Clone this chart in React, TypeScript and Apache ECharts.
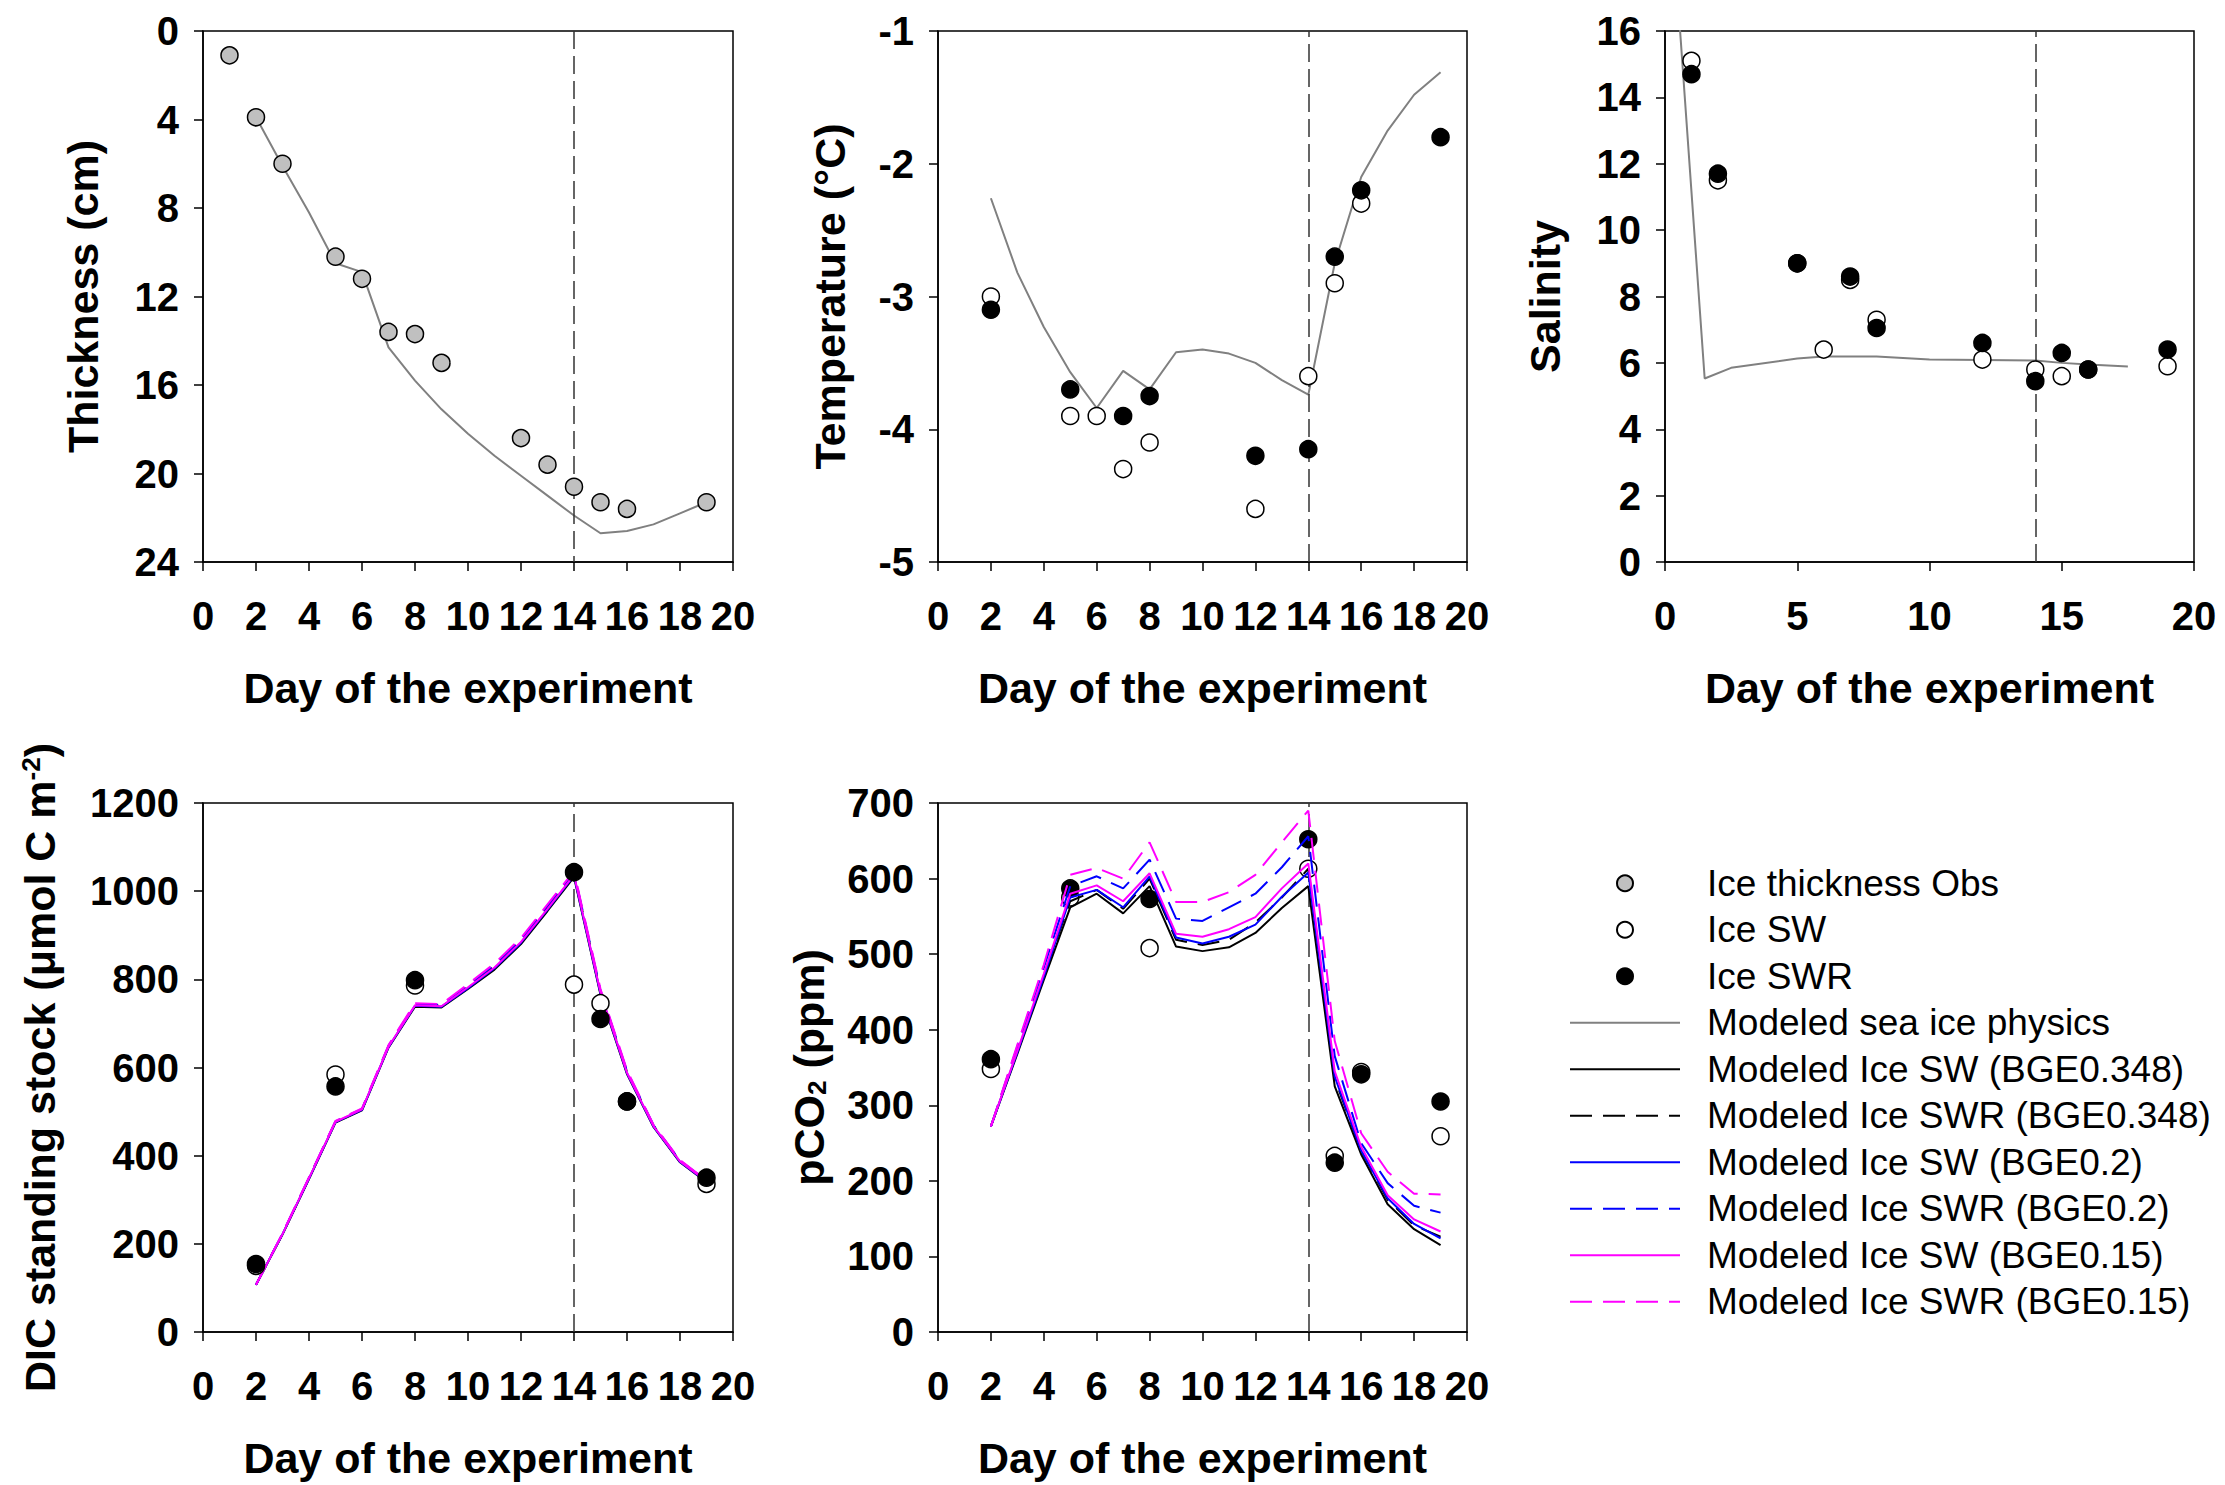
import React, { useEffect, useRef } from "react";
import * as echarts from "echarts";

// ---------- DATA ----------
const eventDay = 14;

// Panel 1: ice thickness (cm)
const thickObsDays = [1, 2, 3, 5, 6, 7, 8, 9, 12, 13, 14, 15, 16, 19];
const thickObs = [1.1, 3.9, 6.0, 10.2, 11.2, 13.6, 13.7, 15.0, 18.4, 19.6, 20.6, 21.3, 21.6, 21.3];
const thickModelDays = [2, 3, 4, 5, 6, 7, 8, 9, 10, 11, 12, 13, 14, 15, 16, 17, 18, 19];
const thickModel = [3.9, 6.1, 8.2, 10.5, 10.9, 14.3, 15.8, 17.1, 18.2, 19.2, 20.1, 21.0, 21.9, 22.7, 22.6, 22.3, 21.8, 21.3];

// Panel 2: temperature (°C)
const tempSWDays = [2, 5, 6, 7, 8, 12, 14, 15, 16];
const tempSW = [-3.0, -3.9, -3.9, -4.3, -4.1, -4.6, -3.6, -2.9, -2.3];
const tempSWRDays = [2, 5, 7, 8, 12, 14, 15, 16, 19];
const tempSWR = [-3.1, -3.7, -3.9, -3.75, -4.2, -4.15, -2.7, -2.2, -1.8];
const tempModelDays = [2, 3, 4, 5, 6, 7, 8, 9, 10, 11, 12, 13, 14, 15, 16, 17, 18, 19];
const tempModel = [-2.26, -2.82, -3.23, -3.57, -3.84, -3.56, -3.7, -3.42, -3.4, -3.43, -3.5, -3.63, -3.74, -2.75, -2.1, -1.75, -1.48, -1.31];

// Panel 3: salinity
const salSWDays = [1, 2, 5, 6, 7, 8, 12, 14, 15, 16, 19];
const salSW = [15.1, 11.5, 9.0, 6.4, 8.5, 7.3, 6.1, 5.8, 5.6, 5.8, 5.9];
const salSWRDays = [1, 2, 5, 7, 8, 12, 14, 15, 16, 19];
const salSWR = [14.7, 11.7, 9.0, 8.6, 7.05, 6.6, 5.45, 6.3, 5.8, 6.4];
const salModelDays = [0.5, 1.5, 2.5, 5, 6, 8, 10, 12, 14, 15, 16, 17.5];
const salModel = [16.8, 5.53, 5.85, 6.13, 6.19, 6.19, 6.1, 6.09, 6.07, 6.0, 5.95, 5.89];

// Panel 4: DIC standing stock
const dicObsDays = [2, 5, 8, 14, 15, 16, 19];
const dicSW = [150, 584, 786, 788, 746, 523, 336];
const dicSWR = [154, 557, 798, 1043, 710, 523, 350];
const modelDays = [2, 3, 4, 5, 6, 7, 8, 9, 10, 11, 12, 13, 14, 15, 16, 17, 18, 19];
const dicSW348 = [107, 221, 347, 475, 503, 645, 738, 736, 778, 822, 880, 955, 1032, 765, 585, 465, 385, 340];
const dicSWR348 = [107, 222, 349, 477, 505, 648, 742, 740, 784, 830, 888, 964, 1040, 772, 590, 468, 388, 342];
const dicSW02 = [107, 222, 348, 476, 504, 646, 740, 738, 780, 825, 883, 958, 1035, 768, 587, 466, 386, 341];
const dicSWR02 = [107, 223, 350, 478, 506, 649, 744, 742, 786, 833, 891, 967, 1043, 775, 592, 469, 389, 343];
const dicSW015 = [107, 222, 349, 477, 505, 647, 741, 739, 782, 827, 885, 960, 1037, 770, 588, 467, 387, 342];
const dicSWR015 = [107, 224, 351, 479, 507, 651, 746, 744, 789, 836, 894, 970, 1046, 778, 594, 470, 390, 344];

// Panel 5: pCO2 (ppm)
const pco2SW = [348, 575, 508, 613, 233, 344, 259];
const pco2SWR = [361, 587, 573, 652, 224, 341, 305];
const pco2SW348 = [272, 368, 466, 562, 580, 554, 590, 510, 504, 509, 528, 561, 590, 325, 235, 169, 136, 115];
const pco2SWR348 = [272, 372, 472, 570, 585, 560, 600, 519, 512, 519, 542, 575, 613, 335, 240, 175, 141, 126];
const pco2SW02 = [272, 370, 470, 575, 585, 562, 603, 522, 514, 523, 539, 576, 608, 338, 240, 177, 143, 124];
const pco2SWR02 = [272, 378, 482, 590, 603, 587, 625, 547, 544, 562, 580, 615, 656, 365, 250, 197, 167, 158];
const pco2SW015 = [272, 372, 474, 580, 591, 570, 607, 527, 523, 533, 549, 587, 620, 345, 245, 181, 149, 133];
const pco2SWR015 = [272, 380, 486, 605, 614, 600, 648, 569, 569, 582, 605, 648, 690, 385, 263, 212, 183, 182];

const markerNames = ["Ice thickness Obs", "Ice SW", "Ice SWR"];
const lineNames = [
  "Modeled sea ice physics",
  "Modeled Ice SW (BGE0.348)",
  "Modeled Ice SWR (BGE0.348)",
  "Modeled Ice SW (BGE0.2)",
  "Modeled Ice SWR (BGE0.2)",
  "Modeled Ice SW (BGE0.15)",
  "Modeled Ice SWR (BGE0.15)",
];

// ---------- STYLE ----------
const FONT = "Liberation Sans, Arial, Helvetica, sans-serif";
const TICK_FS = 40;
const NAME_FS = 43;
const DASH = [22, 11];

const zip = (xs: number[], ys: number[]) => xs.map((x, i) => [x, ys[i]]);

const grids = [
  { left: 203, top: 31, width: 530, height: 531 },
  { left: 938, top: 31, width: 529, height: 531 },
  { left: 1665, top: 31, width: 529, height: 531 },
  { left: 203, top: 803, width: 530, height: 529 },
  { left: 938, top: 803, width: 529, height: 529 },
];

const axisCommon = {
  axisLine: { show: true, onZero: false, lineStyle: { color: "#000", width: 1.5 } },
  axisTick: { show: true, inside: false, length: 9, lineStyle: { color: "#000", width: 1.5 } },
  splitLine: { show: false },
  axisLabel: {
    color: "#000",
    fontSize: TICK_FS,
    fontWeight: "bold",
    fontFamily: FONT,
    formatter: (v: number) => String(v),
  },
  nameTextStyle: { color: "#000", fontSize: NAME_FS, fontWeight: "bold", fontFamily: FONT },
};

function xAxisFor(gi: number, interval: number) {
  return {
    ...axisCommon,
    type: "value",
    gridIndex: gi,
    min: 0,
    max: 20,
    interval,
    name: "Day of the experiment",
    nameLocation: "middle",
    nameGap: 104,
    axisLabel: { ...axisCommon.axisLabel, margin: 34 },
  };
}

function yAxisFor(gi: number, min: number, max: number, interval: number, name: string, nameGap: number, extra: any = {}) {
  return {
    ...axisCommon,
    type: "value",
    gridIndex: gi,
    min,
    max,
    interval,
    name,
    nameLocation: "middle",
    nameGap,
    axisLabel: { ...axisCommon.axisLabel, margin: 24 },
    ...extra,
  };
}

const markLine14 = {
  silent: true,
  symbol: "none",
  label: { show: false },
  lineStyle: { color: "#333", type: [18, 7], width: 1.5 },
  data: [{ xAxis: eventDay }],
};

const obsStyle = (fill: string) => ({
  color: fill,
  borderColor: "#000",
  borderWidth: 1.5,
  opacity: 1,
});

function scatter(name: string, gi: number, xs: number[], ys: number[], fill: string) {
  return {
    type: "scatter",
    name,
    xAxisIndex: gi,
    yAxisIndex: gi,
    data: zip(xs, ys),
    symbol: "circle",
    symbolSize: 17,
    itemStyle: obsStyle(fill),
    z: 5,
  };
}

function line(name: string, gi: number, xs: number[], ys: number[], color: string, dashed: boolean, width = 2, extra: any = {}) {
  return {
    type: "line",
    name,
    xAxisIndex: gi,
    yAxisIndex: gi,
    data: zip(xs, ys),
    symbol: "none",
    showSymbol: false,
    smooth: false,
    clip: true,
    lineStyle: { color, width, type: dashed ? DASH : "solid" },
    itemStyle: { color },
    z: 3,
    ...extra,
  };
}

function buildOption() {
  const series: any[] = [];
  // Panel 1
  series.push(line("Modeled sea ice physics", 0, thickModelDays, thickModel, "#808080", false, 2, { markLine: markLine14 }));
  series.push(scatter("Ice thickness Obs", 0, thickObsDays, thickObs, "#c0c0c0"));
  // Panel 2
  series.push(line("Modeled sea ice physics", 1, tempModelDays, tempModel, "#808080", false, 2, { markLine: markLine14 }));
  series.push(scatter("Ice SW", 1, tempSWDays, tempSW, "#ffffff"));
  series.push(scatter("Ice SWR", 1, tempSWRDays, tempSWR, "#000000"));
  // Panel 3
  series.push(line("Modeled sea ice physics", 2, salModelDays, salModel, "#808080", false, 2, { markLine: markLine14 }));
  series.push(scatter("Ice SW", 2, salSWDays, salSW, "#ffffff"));
  series.push(scatter("Ice SWR", 2, salSWRDays, salSWR, "#000000"));
  // Panel 4
  series.push(line("Modeled Ice SW (BGE0.348)", 3, modelDays, dicSW348, "#000000", false, 2, { markLine: markLine14 }));
  series.push(line("Modeled Ice SWR (BGE0.348)", 3, modelDays, dicSWR348, "#000000", true));
  series.push(line("Modeled Ice SW (BGE0.2)", 3, modelDays, dicSW02, "#0000ff", false));
  series.push(line("Modeled Ice SWR (BGE0.2)", 3, modelDays, dicSWR02, "#0000ff", true));
  series.push(line("Modeled Ice SW (BGE0.15)", 3, modelDays, dicSW015, "#ff00ff", false));
  series.push(line("Modeled Ice SWR (BGE0.15)", 3, modelDays, dicSWR015, "#ff00ff", true));
  series.push(scatter("Ice SW", 3, dicObsDays, dicSW, "#ffffff"));
  series.push(scatter("Ice SWR", 3, dicObsDays, dicSWR, "#000000"));
  // Panel 5
  series.push(scatter("Ice SW", 4, dicObsDays, pco2SW, "#ffffff"));
  series.push(scatter("Ice SWR", 4, dicObsDays, pco2SWR, "#000000"));
  series.push(line("Modeled Ice SW (BGE0.348)", 4, modelDays, pco2SW348, "#000000", false, 2, { markLine: markLine14, z: 6 }));
  series.push(line("Modeled Ice SWR (BGE0.348)", 4, modelDays, pco2SWR348, "#000000", true, 2, { z: 6 }));
  series.push(line("Modeled Ice SW (BGE0.2)", 4, modelDays, pco2SW02, "#0000ff", false, 2, { z: 6 }));
  series.push(line("Modeled Ice SWR (BGE0.2)", 4, modelDays, pco2SWR02, "#0000ff", true, 2, { z: 6 }));
  series.push(line("Modeled Ice SW (BGE0.15)", 4, modelDays, pco2SW015, "#ff00ff", false, 2, { z: 6 }));
  series.push(line("Modeled Ice SWR (BGE0.15)", 4, modelDays, pco2SWR015, "#ff00ff", true, 2, { z: 6 }));

  const subRich = {
    a: { fontSize: NAME_FS, fontWeight: "bold", fontFamily: FONT, color: "#000" },
    sup: { fontSize: 26, fontWeight: "bold", fontFamily: FONT, color: "#000", verticalAlign: "top" },
    sub: { fontSize: 26, fontWeight: "bold", fontFamily: FONT, color: "#000", verticalAlign: "bottom" },
  };

  const legendData = [
    ...markerNames.map((name) => ({ name })),
    ...lineNames.map((name) => ({ name, itemStyle: { opacity: 0 } })),
  ];

  return {
    animation: false,
    backgroundColor: "#ffffff",
    grid: grids.map((g) => ({ ...g, show: true, borderColor: "#000", borderWidth: 1.5, backgroundColor: "transparent", containLabel: false })),
    xAxis: [xAxisFor(0, 2), xAxisFor(1, 2), xAxisFor(2, 5), xAxisFor(3, 2), xAxisFor(4, 2)],
    yAxis: [
      yAxisFor(0, 0, 24, 4, "Thickness (cm)", 99, { inverse: true }),
      yAxisFor(1, -5, -1, 1, "Temperature (°C)", 87),
      yAxisFor(2, 0, 16, 2, "Salinity", 99),
      yAxisFor(3, 0, 1200, 200, "{a|DIC standing stock (μmol C m}{sup|-2}{a|)}", 142, {
        nameTextStyle: { ...axisCommon.nameTextStyle, rich: subRich },
      }),
      yAxisFor(4, 0, 700, 100, "{a|pCO}{sub|2}{a| (ppm)}", 108, {
        nameTextStyle: { ...axisCommon.nameTextStyle, rich: subRich },
      }),
    ],
    legend: {
      show: true,
      orient: "vertical",
      left: 1564,
      top: 855,
      padding: 5,
      itemWidth: 110,
      itemHeight: 16,
      itemGap: 0,
      selectedMode: false,
      data: legendData,
      textStyle: { color: "#000", fontSize: 37, fontFamily: FONT, fontWeight: "normal", lineHeight: 46.5, padding: [0, 0, 0, 22] },
    },
    series,
  };
}

export default function App() {
  const ref = useRef<HTMLDivElement>(null);
  useEffect(() => {
    if (!ref.current) return;
    const chart = echarts.init(ref.current, undefined, { renderer: "svg" });
    chart.setOption(buildOption() as any);
    return () => chart.dispose();
  }, []);
  return (
    <div
      ref={ref}
      style={{ position: "absolute", left: 0, top: 0, width: 2225, height: 1485, background: "#fff" }}
    />
  );
}
